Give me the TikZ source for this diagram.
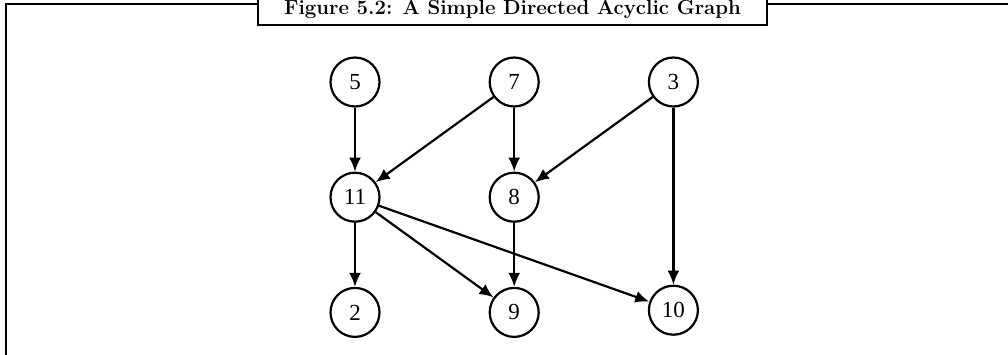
\documentclass[tikz,border=0pt]{standalone}
\usepackage{fontspec}
\newfontfamily\digitfont{Liberation Serif}
\usetikzlibrary{arrows.meta, positioning}
\begin{document}
\begin{tikzpicture}[
    x=1pt, y=-1pt,
    node distance=64pt and 108pt,
    >={Latex[length=14pt,width=12pt]},
    vertex/.style={circle, draw, line width=2.2pt, minimum size=49pt, inner sep=0pt, font=\digitfont\fontsize{23}{27}\selectfont},
    edge/.style={->, line width=2.2pt},
    captionbox/.style={rectangle, draw, fill=white, line width=2.2pt, minimum width=509pt, minimum height=30pt, inner sep=0pt, text height=14pt, text depth=5pt, font=\fontsize{20.4}{24}\selectfont\bfseries}
]
    \useasboundingbox (0,0) rectangle (1008,354);
    \clip (0,0) rectangle (1008,354);

    % Frame
    \draw [line width=2.2pt] (1012,4) -- (6,4) -- (6,360);

    % Caption
    \node (caption) [captionbox] at (512.5,10) {Figure 5.2: A Simple Directed Acyclic Graph};

    % Top row
    \node (v5) [vertex] at (355,82) {5};
    \node (v7) [vertex, right=of v5] {7};
    \node (v3) [vertex, right=of v7] {3};

    % Middle row
    \node (v11) [vertex, below=of v5] {11};
    \node (v8) [vertex, below=of v7] {8};

    % Bottom row
    \node (v2) [vertex, below=of v11] {2};
    \node (v9) [vertex, below=of v8] {9};
    \node (v10) [vertex, below=177pt of v3] {10};

    % Edges
    \draw [edge] (v5) -- (v11);
    \draw [edge] (v7) -- (v11);
    \draw [edge] (v7) -- (v8);
    \draw [edge] (v3) -- (v8);
    \draw [edge] (v3) -- (v10);
    \draw [edge] (v11) -- (v2);
    \draw [edge] (v11) -- (v9);
    \draw [edge] (v11) -- (v10);
    \draw [edge] (v8) -- (v9);

\end{tikzpicture}
\end{document}
